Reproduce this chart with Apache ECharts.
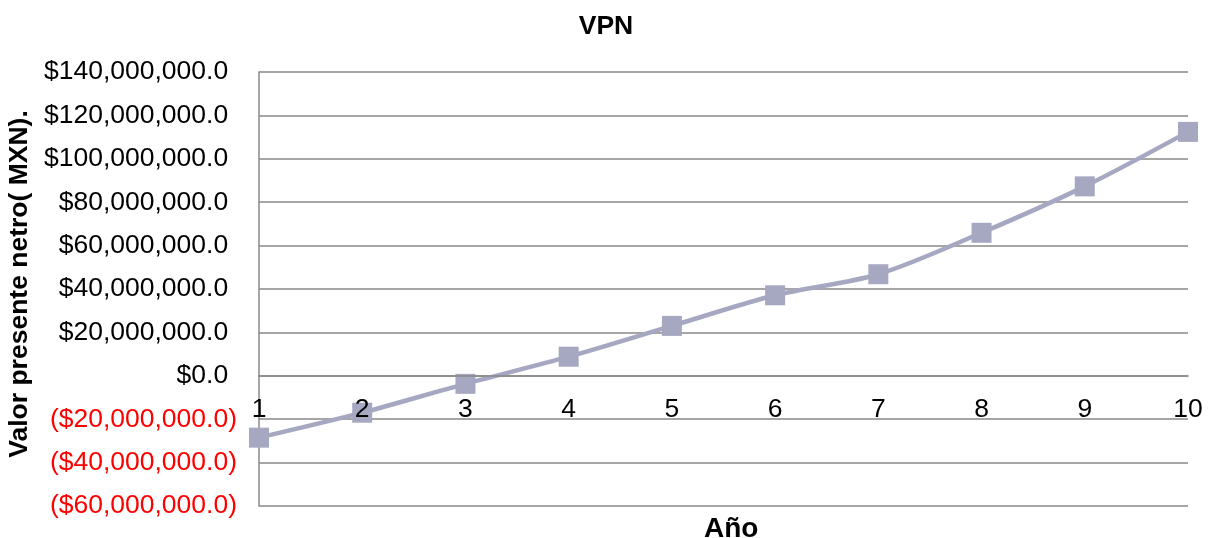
<!DOCTYPE html>
<html><head><meta charset="utf-8">
<script src="https://cdn.jsdelivr.net/npm/echarts@6/dist/echarts.min.js"></script>
<style>html,body{margin:0;padding:0;background:#fff}#c{width:1212px;height:538px}</style>
</head><body><div id="c"></div>
<script>
const years = ['1','2','3','4','5','6','7','8','9','10'];
const vpn = [-28.5e6, -17.0e6, -3.7e6, 8.8e6, 23.0e6, 37.1e6, 46.8e6, 65.9e6, 87.3e6, 112.4e6];
const yMin = -60e6, yMax = 140e6, yStep = 20e6;

function fmt(v){
  const s = '$' + Math.abs(v).toLocaleString('en-US') + '.0';
  if (v < 0) return '{n|(' + s + ')}';
  return '{p|' + s + '}{h|)}';
}
const font = 'Liberation Sans, Arial, sans-serif';
const fs = 26.5;
const gridTop = 72, gridBottom = 32, H = 538;
const plotH = H - gridTop - gridBottom;
const zeroOffset = -(plotH * (0 - yMin) / (yMax - yMin));
const chart = echarts.init(document.getElementById('c'));
chart.setOption({
  animation:false,
  title:[
    {text:'VPN', left:'center', top:8, textStyle:{fontFamily:font, fontSize:fs, fontWeight:'bold', color:'#000'}},
    {text:'Año', left:699, top:510, textStyle:{fontFamily:font, fontSize:28, fontWeight:'bold', color:'#000'}}
  ],
  grid:{left:259, right:24, top:gridTop, bottom:gridBottom, containLabel:false, outerBoundsMode:'none'},
  xAxis:{
    type:'category', data:years, boundaryGap:false, offset:zeroOffset, z:5,
    axisLine:{show:true, onZero:false, lineStyle:{color:'#888888', width:1.5}},
    axisTick:{show:false},
    axisLabel:{margin:20, fontFamily:font, fontSize:fs, color:'#000'}
  },
  yAxis:{
    type:'value', min:yMin, max:yMax, interval:yStep,
    name:'Valor presente netro( MXN).', nameLocation:'middle', nameGap:223,
    nameTextStyle:{fontFamily:font, fontSize:fs, fontWeight:'bold', color:'#000', padding:[0,0,0,10]},
    axisLine:{show:true, lineStyle:{color:'#888888', width:1.5}},
    axisTick:{show:false},
    splitLine:{show:true, lineStyle:{color:'#888888', width:1.5}},
    axisLabel:{margin:22, formatter:fmt, fontFamily:font, fontSize:fs,
      rich:{p:{color:'#000', fontFamily:font, fontSize:fs}, n:{color:'#ff0000', fontFamily:font, fontSize:fs}, h:{color:'rgba(0,0,0,0)', fontFamily:font, fontSize:fs}}}
  },
  series:[{
    type:'line', data:vpn, smooth:0.3, z:2,
    symbol:'rect', symbolSize:20,
    lineStyle:{color:'#a5a8c0', width:4.5},
    itemStyle:{color:'#a5a8c0'}
  }]
});
</script></body></html>
